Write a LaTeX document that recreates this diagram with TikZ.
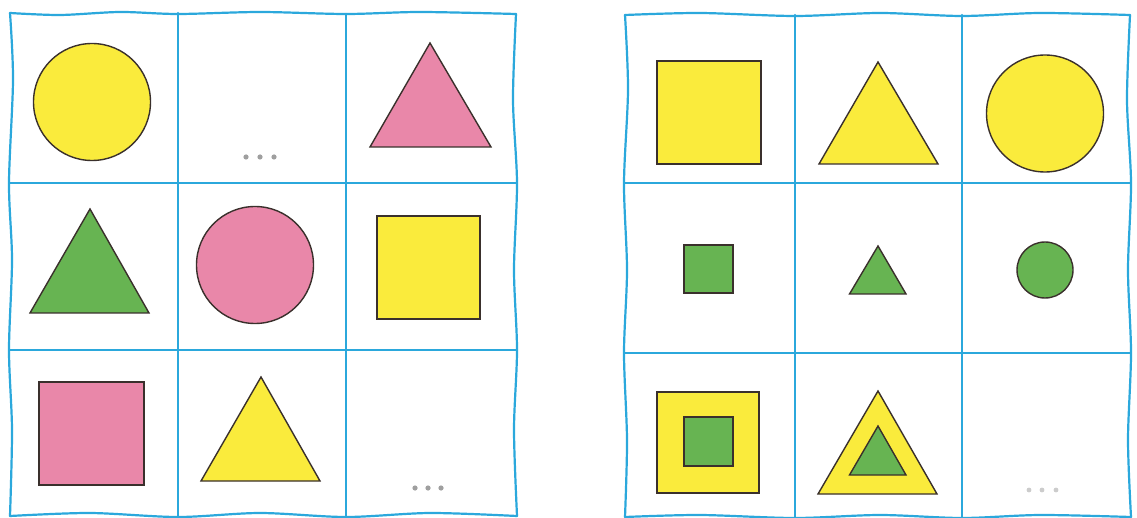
\documentclass[tikz,border=0pt]{standalone}
\definecolor{gridblue}{HTML}{2BA8DC}
\definecolor{fyellow}{HTML}{FAEB3C}
\definecolor{fpink}{HTML}{E987A9}
\definecolor{fgreen}{HTML}{67B452}
\definecolor{outl}{HTML}{3A302C}
\begin{document}
\begin{tikzpicture}[x=1pt,y=-1pt,
  gridline/.style={draw=gridblue,line width=2.2pt,line cap=round},
  fig/.style={draw=outl,line width=1.4pt,line join=miter},
  yel/.style={fig,fill=fyellow},
  pnk/.style={fig,fill=fpink},
  grn/.style={fig,fill=fgreen},
  speck/.style={fill=gray!75},
  faintspeck/.style={fill=gray!40}]
\useasboundingbox (0,0) rectangle (1137,518);
\fill[white] (0,0) rectangle (1137,518);

% ---------- left grid ----------
\draw[gridline] plot[smooth] coordinates {(10,13) (60,15) (120,12) (178,14) (260,12) (346,14) (420,12) (516,14)};
\draw[gridline] plot[smooth] coordinates {(10,13) (13,80) (9,183) (12,260) (9,350) (12,430) (10,516)};
\draw[gridline] plot[smooth] coordinates {(516,14) (513,100) (517,183) (514,270) (517,350) (514,430) (517,516)};
\draw[gridline] plot[smooth] coordinates {(10,516) (90,513) (178,517) (260,513) (346,517) (430,513) (517,516)};
\draw[gridline] (178,13) -- (178,516);
\draw[gridline] (346,14) -- (346,516);
\draw[gridline] (10,183) -- (516,183);
\draw[gridline] (10,350) -- (516,350);

\draw[yel] (92,102) circle (58.5);
\fill[speck] (246,157) circle (2.6) (260,157) circle (2.6) (274,157) circle (2.6);
\draw[pnk] (370,147) -- (491,147) -- (430,43) -- cycle;
\draw[grn] (30,313) -- (149,313) -- (90,209) -- cycle;
\draw[pnk] (255,265) circle (58.5);
\draw[yel] (377,216) rectangle (480,319);
\draw[pnk] (39,382) rectangle (144,485);
\draw[yel] (201,481) -- (320,481) -- (261,377) -- cycle;
\fill[speck] (415,488) circle (2.6) (428,488) circle (2.6) (441,488) circle (2.6);

% ---------- right grid ----------
\draw[gridline] plot[smooth] coordinates {(625,15) (700,13) (795,16) (880,13) (962,16) (1040,13) (1130,15)};
\draw[gridline] plot[smooth] coordinates {(625,15) (628,90) (624,183) (627,270) (624,353) (627,440) (625,517)};
\draw[gridline] plot[smooth] coordinates {(1130,15) (1127,100) (1131,183) (1128,270) (1131,353) (1128,440) (1131,517)};
\draw[gridline] plot[smooth] coordinates {(625,517) (700,515) (795,518) (880,515) (962,518) (1040,515) (1131,517)};
\draw[gridline] (795,15) -- (795,517);
\draw[gridline] (962,15) -- (962,517);
\draw[gridline] (625,183) -- (1130,183);
\draw[gridline] (625,353) -- (1130,353);

\draw[yel] (657,61) rectangle (761,164);
\draw[yel] (819,164) -- (938,164) -- (878,62) -- cycle;
\draw[yel] (1045,113.5) circle (58.5);
\draw[grn] (684,245) rectangle (733,293);
\draw[grn] (849.5,294) -- (906,294) -- (878,246) -- cycle;
\draw[grn] (1045,270) circle (28);
\draw[yel] (657,392) rectangle (759,493);
\draw[grn] (684,417) rectangle (733,466);
\draw[yel] (818,494) -- (937,494) -- (878,391) -- cycle;
\draw[grn] (849.5,475) -- (906,475) -- (878,426) -- cycle;
\fill[faintspeck] (1029,490) circle (2.4) (1042,490) circle (2.4) (1056,490) circle (2.4);
\end{tikzpicture}
\end{document}
